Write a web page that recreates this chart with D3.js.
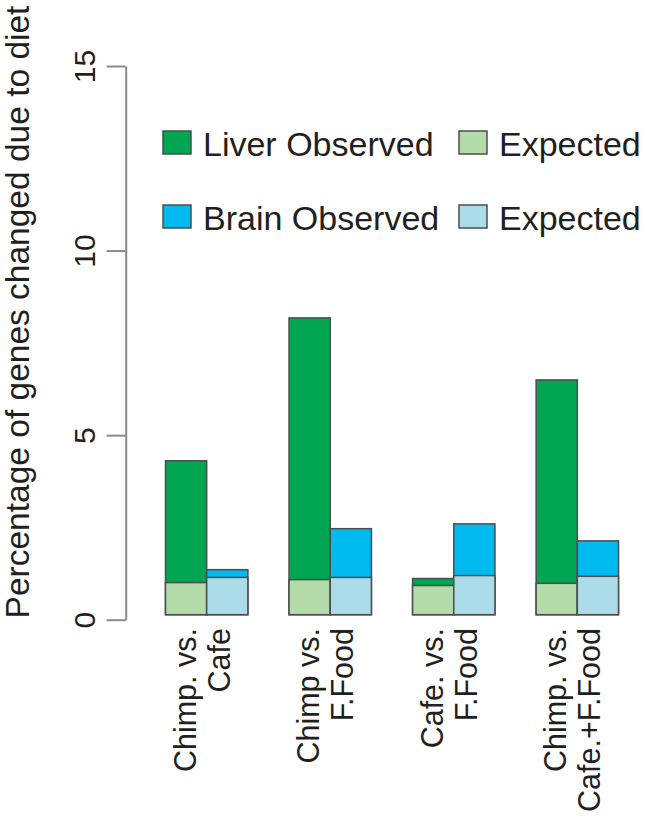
<!DOCTYPE html>
<html>
<head>
<meta charset="utf-8">
<script src="https://cdn.jsdelivr.net/npm/d3@7"></script>
<style>
  body { margin: 0; background: #fff; }
  svg text { font-family: "Liberation Sans", Arial, Helvetica, sans-serif; fill: #231f20; }
</style>
</head>
<body>
<script>
// comparisons (two text lines each, drawn rotated under the bars)
var groups = ["g1", "g2", "g3", "g4"];
var groupLines = [
  ["Chimp. vs.", "Cafe"],
  ["Chimp vs.", "F.Food"],
  ["Cafe. vs.", "F.Food"],
  ["Chimp. vs.", "Cafe.+F.Food"]
];
var tissues = ["Liver", "Brain"];

// percentage of genes changed due to diet
var liverObserved = [4.17, 8.04, 0.98, 6.36];
var liverExpected = [0.87, 0.95, 0.79, 0.85];
var brainObserved = [1.22, 2.33, 2.46, 2.00];
var brainExpected = [1.01, 1.01, 1.06, 1.04];

var yTicks = [0, 5, 10, 15];
var legendLabels = ["Liver Observed", "Expected", "Brain Observed", "Expected"];

var col = {
  liverObs: "#00a651",
  liverExp: "#b3dcaa",
  brainObs: "#00baf0",
  brainExp: "#acdcea"
};

var W = 645, H = 818;

var svg = d3.select("body").append("svg")
    .attr("width", W)
    .attr("height", H);

svg.append("rect").attr("width", W).attr("height", H).attr("fill", "#fff");

var y = d3.scaleLinear().domain([0, 15]).range([619.7, 66]);

var x = d3.scaleBand()
    .domain(groups)
    .range([165.5, 618.5])
    .paddingInner(1 / 3)
    .paddingOuter(0);

var xt = d3.scaleBand()
    .domain(tissues)
    .range([0, x.bandwidth()]);

// y axis
var axisX = 125.7;
var yAxis = svg.append("g")
    .attr("transform", "translate(" + axisX + ",0)")
    .call(d3.axisLeft(y).tickValues(yTicks).tickSize(19).tickSizeOuter(0));

yAxis.select(".domain").attr("stroke", "#8a8a8a").attr("stroke-width", 2);
yAxis.selectAll(".tick line").attr("stroke", "#8a8a8a").attr("stroke-width", 2);
yAxis.selectAll(".tick text")
    .attr("x", null)
    .attr("dy", null)
    .attr("fill", "#231f20")
    .attr("font-size", 30)
    .attr("text-anchor", "middle")
    .attr("transform", "translate(-31,0) rotate(-90)");

svg.append("text")
    .attr("transform", "translate(29," + 312 + ") rotate(-90)")
    .attr("text-anchor", "middle")
    .attr("font-size", 33.5)
    .text("Percentage of genes changed due to diet");

// bars: observed first, expected drawn over it from zero
var barRows = groups.map(function(g, i) {
  return [
    { g: g, t: "Liver", v: liverObserved[i], c: col.liverObs },
    { g: g, t: "Liver", v: liverExpected[i], c: col.liverExp },
    { g: g, t: "Brain", v: brainObserved[i], c: col.brainObs },
    { g: g, t: "Brain", v: brainExpected[i], c: col.brainExp }
  ];
});
var bars = [].concat.apply([], barRows);

// bars sit slightly above the axis zero in the original
var barsG = svg.append("g").attr("transform", "translate(0,-5)");
barsG.selectAll("rect")
    .data(bars)
    .enter().append("rect")
    .attr("x", function(d) { return x(d.g) + xt(d.t); })
    .attr("y", function(d) { return y(d.v); })
    .attr("width", xt.bandwidth())
    .attr("height", function(d) { return y(0) - y(d.v); })
    .attr("fill", function(d) { return d.c; })
    .attr("stroke", "#4d4d4d")
    .attr("stroke-width", 1.5);

// category labels
groups.forEach(function(g, i) {
  var c = x(g) + x.bandwidth() / 2;
  groupLines[i].forEach(function(line, j) {
    svg.append("text")
        .attr("transform", "translate(" + (c - 11 + j * 34) + ",628) rotate(-90)")
        .attr("text-anchor", "end")
        .attr("font-size", 30.5)
        .text(line);
  });
});

// legend
var legendCols = [163, 459];
var legendRows = [131, 205];
var legendColors = [col.liverObs, col.liverExp, col.brainObs, col.brainExp];
legendLabels.forEach(function(lab, i) {
  var lx = legendCols[i % 2], ly = legendRows[Math.floor(i / 2)];
  svg.append("rect")
      .attr("x", lx).attr("y", ly)
      .attr("width", 28).attr("height", 23)
      .attr("fill", legendColors[i])
      .attr("stroke", "#4d4d4d")
      .attr("stroke-width", 1.5);
  svg.append("text")
      .attr("x", lx + 40)
      .attr("y", ly + 24.5)
      .attr("font-size", 34)
      .text(lab);
});
</script>
</body>
</html>
